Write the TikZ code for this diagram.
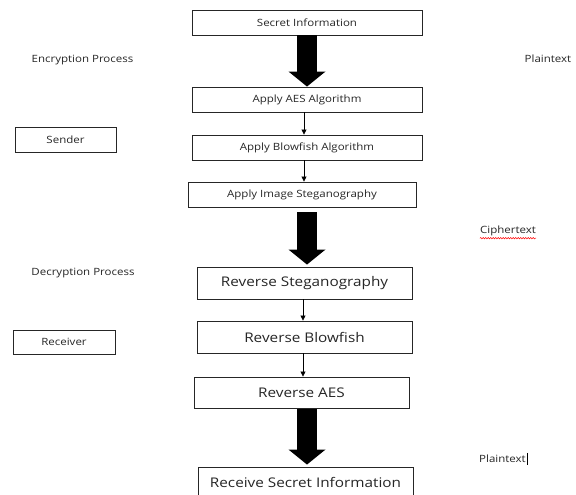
\documentclass[tikz,border=0pt]{standalone}
\usepackage{amsmath}
\usepackage{amssymb}
\usepackage{fontspec}
\setmainfont{Open Sans}[FakeStretch=1.15]
\usetikzlibrary{arrows.meta,decorations.pathmorphing}

\begin{document}
\begin{tikzpicture}[x=1pt,y=-1pt,
  box/.style={draw=black!85,line width=0.9pt,inner sep=0pt,text=black!85,font=\fontsize{10}{12}\selectfont,minimum height=25pt},
  bigbox/.style={box,font=\fontsize{13.3}{16}\selectfont,minimum width=215pt,minimum height=32pt},
  lbl/.style={text=black!85,inner sep=0pt,font=\fontsize{10}{12}\selectfont},
  fatarrow/.style={line width=20pt,-{Triangle[width=37pt 0 1,length=15pt 0 1,line width=0pt 0 0]}},
  thinarrow/.style={line width=0.8pt,-{Triangle[width=5pt,length=5pt]}}]
\fill[white] (0,0) rectangle (576,495);
\useasboundingbox (0,0) rectangle (576,495);
\node [box,minimum width=230pt] (secret) at (307,22.5) {Secret Information};
\node [box,minimum width=230pt] (aes) at (307,99.5) {Apply AES Algorithm};
\node [box,minimum width=230pt] (blowfish) at (307,147.5) {Apply Blowfish Algorithm};
\node [box,minimum width=228pt] (steg) at (302,194.5) {Apply Image Steganography};
\node [bigbox] (rsteg) at (304.5,283) {Reverse Steganography};
\node [bigbox] (rblowfish) at (304.5,337) {Reverse Blowfish};
\node [bigbox,minimum height=31pt] (raes) at (301.5,392.5) {Reverse AES};
\node [bigbox,minimum height=30pt] (receive) at (305.5,482) {Receive Secret Information};
\node [lbl] (enc) at (82.5,60) {Encryption Process};
\node [box,minimum width=101pt] (sender) at (65.5,139.5) {Sender};
\node [lbl] (dec) at (83,273) {Decryption Process};
\node [box,minimum width=102pt,minimum height=24pt] (receiver) at (64,342) {Receiver};
\node [lbl] (plain) at (548,59) {Plaintext};
\node [lbl] (cipher) at (508,231) {Ciphertext};
\node [lbl] (plainb) at (502.5,459) {Plaintext};
\draw [fatarrow] (secret.south) -- (aes.north);
\draw [thinarrow] ([xshift=-3pt]aes.south) -- ([xshift=-3pt]blowfish.north);
\draw [thinarrow] ([xshift=-3pt]blowfish.south) -- ([xshift=-3pt]blowfish.south |- steg.north);
\draw [fatarrow] ([yshift=-5pt]steg.south -| secret.south) -- ([yshift=2pt]rsteg.north -| secret.south);
\draw [thinarrow] ([xshift=-1.5pt]rsteg.south) -- ([xshift=-1.5pt]rblowfish.north);
\draw [thinarrow] ([xshift=-1.5pt]rblowfish.south) -- ([xshift=-1.5pt]rblowfish.south |- raes.north);
\draw [fatarrow] ([yshift=-1pt]raes.south -| secret.south) -- ([yshift=2pt]receive.north -| secret.south);
\draw [red,line width=0.5pt,decorate,decoration={snake,amplitude=0.7pt,segment length=2.5pt}] ([yshift=-2pt]cipher.south west) -- ([yshift=-2pt]cipher.south east);
\draw [line width=0.8pt] ([xshift=1pt,yshift=2pt]plainb.north east) -- ([xshift=1pt,yshift=-2pt]plainb.south east);
\end{tikzpicture}
\end{document}
